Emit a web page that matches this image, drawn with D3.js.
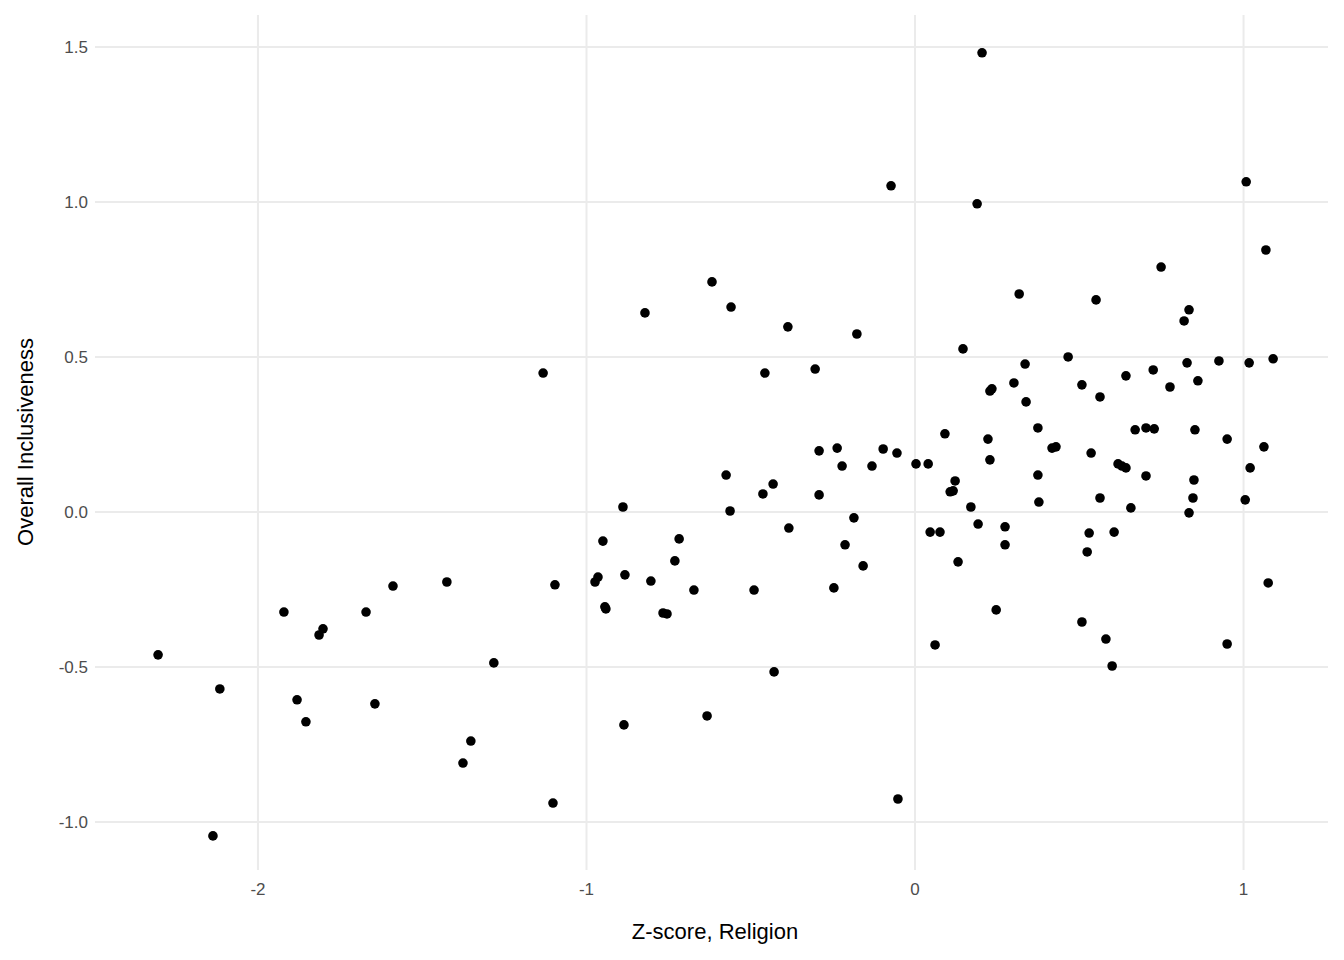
<!DOCTYPE html>
<html><head><meta charset="utf-8">
<script src="https://cdn.jsdelivr.net/npm/d3@7"></script>
<style>body{margin:0;background:#fff}text{font-family:"Liberation Sans",Arial,sans-serif}</style>
</head><body><svg id="c" width="1344" height="960"></svg>
<script>
const xVals=[-2.304,-2.137,-2.116,-1.921,-1.881,-1.854,-1.814,-1.802,-1.671,-1.644,-1.589,-1.425,-1.376,-1.352,-1.282,-1.132,-1.102,-1.096,-0.974,-0.965,-0.950,-0.944,-0.941,-0.889,-0.883,-0.886,-0.822,-0.804,-0.767,-0.755,-0.731,-0.718,-0.673,-0.633,-0.618,-0.575,-0.563,-0.560,-0.490,-0.463,-0.457,-0.432,-0.429,-0.387,-0.384,-0.304,-0.292,-0.292,-0.247,-0.237,-0.222,-0.213,-0.186,-0.177,-0.158,-0.131,-0.097,-0.073,-0.055,-0.052,0.003,0.040,0.046,0.061,0.076,0.091,0.107,0.116,0.122,0.131,0.146,0.170,0.189,0.192,0.204,0.222,0.228,0.234,0.228,0.247,0.274,0.274,0.301,0.317,0.335,0.338,0.374,0.374,0.377,0.417,0.429,0.466,0.508,0.508,0.524,0.530,0.536,0.551,0.563,0.563,0.581,0.600,0.606,0.618,0.630,0.642,0.642,0.657,0.670,0.703,0.703,0.725,0.728,0.749,0.776,0.819,0.828,0.834,0.834,0.846,0.849,0.852,0.861,0.925,0.950,0.950,1.005,1.008,1.017,1.020,1.062,1.068,1.075,1.090];
const yVals=[-0.461,-1.045,-0.571,-0.323,-0.606,-0.677,-0.397,-0.377,-0.323,-0.619,-0.239,-0.226,-0.810,-0.739,-0.487,0.448,-0.939,-0.235,-0.226,-0.210,-0.094,-0.306,-0.313,0.016,-0.203,-0.687,0.642,-0.223,-0.326,-0.329,-0.158,-0.087,-0.252,-0.658,0.742,0.119,0.003,0.661,-0.252,0.058,0.448,0.090,-0.516,0.597,-0.052,0.461,0.197,0.055,-0.245,0.206,0.148,-0.106,-0.019,0.574,-0.174,0.148,0.203,1.052,0.190,-0.926,0.155,0.155,-0.065,-0.429,-0.065,0.252,0.065,0.068,0.100,-0.161,0.526,0.016,0.994,-0.039,1.481,0.235,0.390,0.397,0.168,-0.316,-0.048,-0.106,0.416,0.703,0.477,0.355,0.271,0.119,0.032,0.206,0.210,0.500,0.410,-0.355,-0.129,-0.068,0.190,0.684,0.371,0.045,-0.410,-0.497,-0.065,0.155,0.148,0.142,0.439,0.013,0.265,0.271,0.116,0.458,0.268,0.790,0.403,0.616,0.481,0.652,-0.003,0.045,0.103,0.265,0.423,0.487,0.235,-0.426,0.039,1.065,0.481,0.142,0.210,0.845,-0.229,0.494];
const xTicks=[-2,-1,0,1];
const yTicks=[-1.0,-0.5,0.0,0.5,1.0,1.5];
const svg=d3.select("#c");
const x=d3.scaleLinear().domain([-2.496,1.257]).range([95,1328]);
const y=d3.scaleLinear().domain([-1.155,1.603]).range([870,15]);
const g=svg.append("g");
g.selectAll(".vx").data(xTicks).join("line").attr("x1",d=>x(d)).attr("x2",d=>x(d)).attr("y1",15).attr("y2",870).attr("stroke","#ebebeb").attr("stroke-width",2);
g.selectAll(".hy").data(yTicks).join("line").attr("y1",d=>y(d)).attr("y2",d=>y(d)).attr("x1",95).attr("x2",1328).attr("stroke","#ebebeb").attr("stroke-width",2);
svg.selectAll(".xt").data(xTicks).join("text").attr("x",d=>x(d)).attr("y",895).attr("text-anchor","middle").attr("font-size",17).attr("fill","#4d4d4d").text(d=>String(d));
svg.selectAll(".yt").data(yTicks).join("text").attr("x",88).attr("y",d=>y(d)+6).attr("text-anchor","end").attr("font-size",17).attr("fill","#4d4d4d").text(d=>d.toFixed(1));
svg.selectAll("circle").data(xVals.map((v,i)=>[v,yVals[i]])).join("circle").attr("cx",d=>x(d[0])).attr("cy",d=>y(d[1])).attr("r",4.8).attr("fill","#000");
svg.append("text").attr("x",715).attr("y",939).attr("text-anchor","middle").attr("font-size",22).text("Z-score, Religion");
svg.append("text").attr("transform","translate(33,442) rotate(-90)").attr("text-anchor","middle").attr("font-size",22).text("Overall Inclusiveness");
</script></body></html>
